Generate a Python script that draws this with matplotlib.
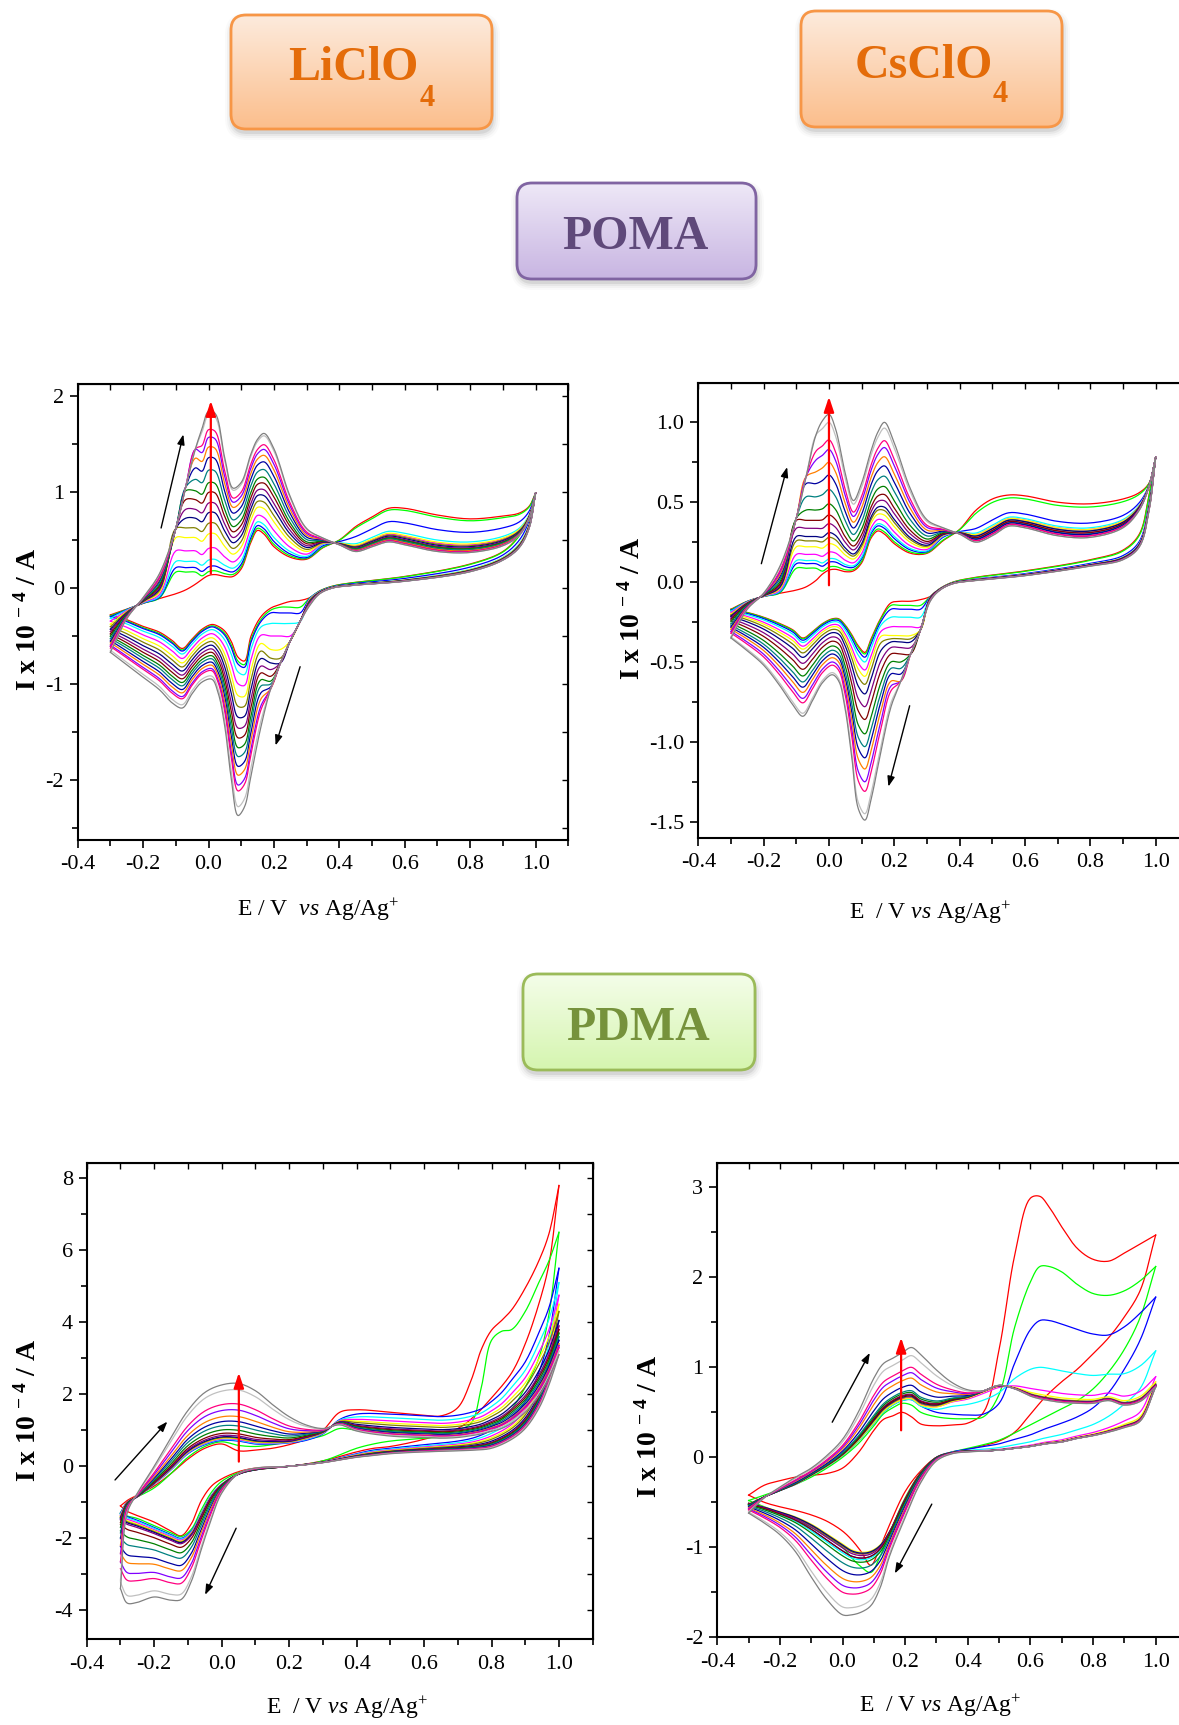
import numpy as np
import matplotlib
matplotlib.use("Agg")
import matplotlib.pyplot as plt
from matplotlib.patches import FancyBboxPatch
from matplotlib.ticker import MultipleLocator, FormatStrFormatter
from matplotlib.colors import to_rgb

plt.rcParams.update({
    "font.family": ["Liberation Serif", "DejaVu Serif"],
    "mathtext.fontset": "custom",
    "mathtext.rm": "Liberation Serif",
    "mathtext.it": "Liberation Serif:italic",
    "mathtext.bf": "Liberation Serif:bold",
    "axes.unicode_minus": False,
})

# Scan colours, first scan (red) to last scan (grey)
cycle_colors = ["#FF0000", "#00FF00", "#0000FF", "#00FFFF", "#FF00FF", "#FFFF00",
                "#808000", "#000080", "#800080", "#800000", "#008000", "#008080",
                "#0000A0", "#FF8000", "#8000FF", "#FF0080", "#C0C0C0", "#808080"]

# ---------------- POMA potential grids (V vs Ag/Ag+) ----------------
E_poma_fwd = [-0.30, -0.25, -0.20, -0.15, -0.10, -0.07, -0.04, -0.02, 0.00, 0.02, 0.05,
              0.075, 0.10, 0.13, 0.15, 0.17, 0.20, 0.25, 0.30, 0.35, 0.40, 0.45, 0.50,
              0.55, 0.60, 0.70, 0.80, 0.90, 0.95, 0.98, 1.00]
E_poma_rev = [1.00, 0.98, 0.95, 0.90, 0.80, 0.60, 0.45, 0.38, 0.34, 0.31, 0.28, 0.25,
              0.22, 0.19, 0.16, 0.13, 0.11, 0.09, 0.07, 0.05, 0.03, 0.01, -0.02, -0.05,
              -0.08, -0.11, -0.15, -0.20, -0.25, -0.30]

# POMA / LiClO4 : first and last scan (I x 1e-4 A)
poma_li_first_fwd = [-0.28, -0.22, -0.16, -0.11, -0.06, -0.02, 0.04, 0.09, 0.13, 0.14, 0.12,
                     0.12, 0.20, 0.48, 0.60, 0.56, 0.43, 0.32, 0.30, 0.42, 0.50, 0.64, 0.74,
                     0.83, 0.83, 0.76, 0.72, 0.75, 0.78, 0.85, 0.99]
poma_li_last_fwd = [-0.67, -0.32, -0.10, 0.15, 0.62, 1.05, 1.45, 1.66, 1.84, 1.82, 1.35,
                    1.04, 1.10, 1.40, 1.55, 1.61, 1.45, 0.95, 0.62, 0.52, 0.45, 0.38, 0.43,
                    0.48, 0.45, 0.38, 0.37, 0.44, 0.55, 0.72, 0.99]
poma_li_first_rev = [0.99, 0.75, 0.55, 0.38, 0.25, 0.12, 0.06, 0.02, -0.03, -0.10, -0.13,
                     -0.14, -0.17, -0.21, -0.30, -0.50, -0.76, -0.72, -0.56, -0.45, -0.40,
                     -0.38, -0.43, -0.53, -0.63, -0.55, -0.46, -0.40, -0.33, -0.28]
poma_li_last_rev = [0.99, 0.62, 0.42, 0.29, 0.17, 0.07, 0.03, 0.00, -0.06, -0.18, -0.35,
                    -0.55, -0.78, -1.05, -1.45, -1.95, -2.28, -2.37, -2.00, -1.45, -1.10,
                    -0.95, -0.98, -1.10, -1.25, -1.20, -1.06, -0.93, -0.80, -0.67]
# per-scan readings: anodic peak (~0.0 V), cathodic peak (~0.1 V),
# anodic plateau at 0.8 V, cathodic shelf at 0.2 V
poma_li_anodic = [0.14, 0.18, 0.23, 0.30, 0.42, 0.57, 0.68, 0.79, 0.89, 1.00, 1.10, 1.23,
                  1.36, 1.47, 1.57, 1.65, 1.80, 1.84]
poma_li_cathodic = [-0.76, -0.80, -0.83, -0.91, -1.03, -1.15, -1.26, -1.37, -1.48, -1.58,
                    -1.68, -1.77, -1.87, -1.96, -2.06, -2.12, -2.28, -2.37]
poma_li_high = [0.72, 0.70, 0.58, 0.48, 0.45, 0.46, 0.44, 0.43, 0.42, 0.41, 0.41, 0.40,
                0.39, 0.39, 0.38, 0.38, 0.37, 0.37]
poma_li_shelf = [-0.19, -0.20, -0.26, -0.37, -0.50, -0.64, -0.73, -0.78, -0.85, -0.92,
                 -0.97, -1.00, -1.03, -1.06, -1.08, -1.10, -1.10, -1.10]

# POMA / CsClO4
poma_cs_first_fwd = [-0.17, -0.12, -0.09, -0.07, -0.05, -0.03, 0.01, 0.05, 0.075, 0.08, 0.065,
                     0.07, 0.12, 0.28, 0.32, 0.30, 0.24, 0.18, 0.18, 0.26, 0.33, 0.45, 0.52,
                     0.545, 0.54, 0.50, 0.49, 0.52, 0.56, 0.62, 0.78]
poma_cs_last_fwd = [-0.35, -0.17, -0.07, 0.10, 0.40, 0.66, 0.92, 1.01, 1.05, 0.96, 0.68,
                    0.51, 0.62, 0.83, 0.94, 1.00, 0.87, 0.58, 0.39, 0.34, 0.30, 0.25, 0.29,
                    0.35, 0.34, 0.29, 0.28, 0.34, 0.45, 0.60, 0.78]
poma_cs_first_rev = [0.78, 0.55, 0.30, 0.20, 0.14, 0.07, 0.03, 0.00, -0.04, -0.09, -0.11,
                     -0.12, -0.12, -0.13, -0.22, -0.35, -0.44, -0.40, -0.33, -0.27, -0.23,
                     -0.23, -0.26, -0.31, -0.35, -0.30, -0.26, -0.22, -0.19, -0.17]
poma_cs_last_rev = [0.78, 0.45, 0.22, 0.14, 0.10, 0.04, 0.01, -0.01, -0.05, -0.12, -0.30,
                    -0.45, -0.62, -0.78, -1.05, -1.35, -1.49, -1.42, -1.10, -0.80, -0.62,
                    -0.58, -0.63, -0.74, -0.84, -0.77, -0.65, -0.52, -0.43, -0.35]
poma_cs_anodic = [0.075, 0.094, 0.125, 0.146, 0.188, 0.24, 0.28, 0.31, 0.366, 0.42, 0.49,
                  0.58, 0.67, 0.75, 0.83, 0.89, 1.00, 1.05]
poma_cs_cathodic = [-0.44, -0.45, -0.47, -0.50, -0.55, -0.59, -0.64, -0.70, -0.78, -0.86,
                    -0.95, -1.03, -1.10, -1.17, -1.25, -1.31, -1.45, -1.49]
poma_cs_high = [0.49, 0.47, 0.37, 0.34, 0.33, 0.33, 0.32, 0.32, 0.31, 0.31, 0.30, 0.30,
                0.30, 0.29, 0.29, 0.29, 0.28, 0.28]
poma_cs_shelf = [-0.115, -0.146, -0.17, -0.22, -0.28, -0.335, -0.355, -0.375, -0.41, -0.45,
                 -0.50, -0.54, -0.575, -0.62, -0.65, -0.68, -0.74, -0.78]

# ---------------- PDMA / LiClO4 ----------------
E_pdma_li_fwd = [-0.30, -0.28, -0.25, -0.20, -0.15, -0.10, -0.05, 0.00, 0.05, 0.10, 0.15,
                 0.20, 0.25, 0.30, 0.35, 0.40, 0.50, 0.60, 0.65, 0.70, 0.74, 0.77, 0.80,
                 0.83, 0.86, 0.90, 0.94, 0.97, 1.00]
E_pdma_li_rev = [1.00, 0.97, 0.94, 0.90, 0.86, 0.80, 0.75, 0.70, 0.60, 0.50, 0.45, 0.40,
                 0.30, 0.20, 0.10, 0.05, 0.00, -0.03, -0.06, -0.09, -0.12, -0.15, -0.20,
                 -0.25, -0.28, -0.30]
pdma_li_scan1_fwd = [-1.10, -0.95, -0.80, -0.55, -0.20, 0.20, 0.50, 0.62, 0.43, 0.45, 0.50,
                     0.60, 0.75, 1.00, 1.50, 1.57, 1.50, 1.42, 1.40, 1.63, 2.40, 3.25, 3.78,
                     4.05, 4.35, 4.95, 5.70, 6.45, 7.80]
pdma_li_scan2_fwd = [-1.30, -1.00, -0.85, -0.60, -0.20, 0.25, 0.55, 0.68, 0.58, 0.55, 0.60,
                     0.68, 0.75, 0.85, 1.05, 1.00, 0.95, 0.95, 0.97, 1.02, 1.20, 2.20, 3.50,
                     3.75, 3.80, 4.30, 5.10, 5.70, 6.50]
pdma_li_scan3_fwd = [-1.30, -1.00, -0.85, -0.50, -0.10, 0.35, 0.60, 0.72, 0.70, 0.62, 0.62,
                     0.65, 0.72, 0.90, 1.30, 1.45, 1.45, 1.40, 1.38, 1.42, 1.50, 1.60, 1.80,
                     2.05, 2.40, 2.90, 3.70, 4.40, 5.50]
pdma_li_last_fwd = [-3.40, -1.30, -0.75, 0.00, 0.80, 1.55, 2.05, 2.26, 2.30, 2.10, 1.72,
                    1.38, 1.15, 1.05, 1.15, 0.98, 0.84, 0.80, 0.78, 0.80, 0.85, 0.90, 0.97,
                    1.05, 1.20, 1.50, 1.95, 2.45, 3.10]
pdma_li_scan1_rev = [7.80, 5.60, 4.50, 3.40, 2.60, 1.90, 1.40, 1.05, 0.75, 0.55, 0.50, 0.40,
                     0.15, 0.00, -0.05, -0.15, -0.35, -0.55, -0.95, -1.60, -1.93, -1.80,
                     -1.55, -1.37, -1.25, -1.10]
pdma_li_scan2_rev = [6.50, 4.20, 3.00, 2.20, 1.60, 1.10, 0.95, 0.85, 0.78, 0.70, 0.62, 0.50,
                     0.15, 0.00, -0.08, -0.18, -0.42, -0.72, -1.20, -1.75, -1.95, -1.85,
                     -1.65, -1.45, -1.38, -1.30]
pdma_li_scan3_rev = [5.50, 3.60, 2.60, 1.80, 1.35, 1.00, 0.80, 0.70, 0.60, 0.50, 0.45, 0.35,
                     0.12, 0.00, -0.10, -0.22, -0.50, -0.80, -1.30, -1.80, -2.00, -1.90,
                     -1.70, -1.50, -1.40, -1.30]
pdma_li_last_rev = [3.10, 2.25, 1.60, 1.05, 0.75, 0.50, 0.45, 0.43, 0.40, 0.35, 0.30, 0.25,
                    0.10, 0.00, -0.05, -0.20, -0.75, -1.45, -2.30, -3.20, -3.70, -3.72,
                    -3.63, -3.78, -3.80, -3.40]
pdma_li_anodic = [0.43, 0.58, 0.70, 0.72, 0.74, 0.76, 0.78, 0.80, 0.84, 0.90, 1.00, 1.12,
                  1.24, 1.38, 1.56, 1.73, 2.12, 2.30]
pdma_li_cathodic = [-1.93, -1.95, -2.00, -2.02, -2.05, -2.08, -2.10, -2.12, -2.15, -2.25,
                    -2.40, -2.55, -2.75, -2.90, -3.10, -3.25, -3.55, -3.70]
pdma_li_high = [7.8, 6.5, 5.5, 5.1, 4.75, 4.5, 4.3, 4.05, 3.9, 3.8, 3.7, 3.6, 3.5, 3.4,
                3.35, 3.3, 3.2, 3.1]

# ---------------- PDMA / CsClO4 ----------------
E_pdma_cs_fwd = [-0.30, -0.25, -0.20, -0.15, -0.10, -0.05, 0.00, 0.05, 0.10, 0.13, 0.16,
                 0.19, 0.22, 0.25, 0.30, 0.35, 0.40, 0.45, 0.50, 0.55, 0.60, 0.63, 0.66,
                 0.70, 0.75, 0.80, 0.85, 0.90, 0.95, 1.00]
E_pdma_cs_rev = [1.00, 0.95, 0.90, 0.85, 0.80, 0.75, 0.70, 0.65, 0.60, 0.55, 0.50, 0.45,
                 0.40, 0.35, 0.30, 0.25, 0.20, 0.15, 0.12, 0.09, 0.06, 0.03, 0.00, -0.05,
                 -0.10, -0.15, -0.20, -0.25, -0.30]
pdma_cs_scan1_fwd = [-0.42, -0.31, -0.26, -0.22, -0.20, -0.18, -0.12, 0.05, 0.30, 0.42, 0.46,
                     0.50, 0.45, 0.37, 0.35, 0.36, 0.38, 0.50, 1.20, 2.25, 2.88, 2.90, 2.78,
                     2.56, 2.32, 2.20, 2.18, 2.27, 2.37, 2.47]
pdma_cs_scan2_fwd = [-0.48, -0.42, -0.36, -0.30, -0.22, -0.12, 0.00, 0.15, 0.35, 0.48, 0.55,
                     0.60, 0.58, 0.50, 0.45, 0.43, 0.43, 0.45, 0.70, 1.45, 1.95, 2.12, 2.12,
                     2.06, 1.92, 1.82, 1.80, 1.85, 1.96, 2.12]
pdma_cs_scan3_fwd = [-0.52, -0.44, -0.37, -0.30, -0.20, -0.10, 0.02, 0.18, 0.38, 0.50, 0.58,
                     0.63, 0.64, 0.57, 0.50, 0.48, 0.47, 0.48, 0.60, 1.05, 1.42, 1.52, 1.52,
                     1.48, 1.42, 1.37, 1.36, 1.45, 1.60, 1.78]
pdma_cs_last_fwd = [-0.62, -0.45, -0.33, -0.22, -0.12, 0.02, 0.20, 0.50, 0.88, 1.04, 1.10,
                    1.16, 1.22, 1.14, 0.97, 0.83, 0.75, 0.74, 0.80, 0.76, 0.68, 0.65, 0.63,
                    0.61, 0.60, 0.60, 0.63, 0.58, 0.62, 0.78]
pdma_cs_scan1_rev = [2.47, 1.85, 1.56, 1.33, 1.15, 0.98, 0.84, 0.68, 0.48, 0.28, 0.18, 0.13,
                     0.09, 0.05, 0.00, -0.15, -0.38, -0.75, -1.00, -1.20, -1.05, -0.92, -0.82,
                     -0.71, -0.64, -0.59, -0.55, -0.50, -0.42]
pdma_cs_scan2_rev = [2.12, 1.55, 1.20, 0.95, 0.76, 0.63, 0.54, 0.45, 0.36, 0.27, 0.19, 0.14,
                     0.10, 0.06, 0.00, -0.17, -0.45, -0.85, -1.10, -1.28, -1.22, -1.12, -1.00,
                     -0.88, -0.78, -0.70, -0.62, -0.55, -0.48]
pdma_cs_scan3_rev = [1.78, 1.30, 0.98, 0.72, 0.55, 0.45, 0.38, 0.32, 0.25, 0.20, 0.15, 0.12,
                     0.09, 0.06, 0.00, -0.18, -0.48, -0.85, -1.02, -1.10, -1.12, -1.10, -1.04,
                     -0.92, -0.80, -0.70, -0.63, -0.57, -0.52]
pdma_cs_last_rev = [0.78, 0.40, 0.33, 0.28, 0.24, 0.21, 0.17, 0.15, 0.12, 0.10, 0.08, 0.07,
                    0.06, 0.04, -0.04, -0.28, -0.67, -1.10, -1.45, -1.65, -1.72, -1.75, -1.75,
                    -1.58, -1.33, -1.05, -0.86, -0.73, -0.62]
pdma_cs_anodic = [0.50, 0.59, 0.64, 0.64, 0.66, 0.65, 0.67, 0.68, 0.70, 0.69, 0.72, 0.74,
                  0.80, 0.88, 0.94, 1.00, 1.13, 1.22]
pdma_cs_cathodic = [-0.92, -1.12, -1.10, -1.12, -1.05, -1.03, -1.05, -1.04, -1.07, -1.10,
                    -1.15, -1.22, -1.30, -1.38, -1.45, -1.52, -1.67, -1.75]
pdma_cs_high = [2.90, 2.12, 1.52, 1.00, 0.75, 0.70, 0.68, 0.67, 0.67, 0.66, 0.66, 0.66,
                0.66, 0.66, 0.66, 0.66, 0.65, 0.65]

# y tick values
poma_li_yticks = [-2, -1, 0, 1, 2]
poma_cs_yticks = [-1.5, -1.0, -0.5, 0.0, 0.5, 1.0]
pdma_li_yticks = [-4, -2, 0, 2, 4, 6, 8]
pdma_cs_yticks = [-2, -1, 0, 1, 2, 3]
x_ticks = [-0.4, -0.2, 0.0, 0.2, 0.4, 0.6, 0.8, 1.0]

W, H = 1179, 1725
N_SCANS = len(cycle_colors)


def smooth_path(x, y, sx, sy, n=10):
    """Centripetal Catmull-Rom through the given points (in pixel-like units)."""
    P = np.column_stack([np.asarray(x, float) * sx, np.asarray(y, float) * sy])
    P = np.vstack([2 * P[0] - P[1], P, 2 * P[-1] - P[-2]])
    segs = []
    for i in range(1, len(P) - 2):
        p0, p1, p2, p3 = P[i - 1], P[i], P[i + 1], P[i + 2]
        t0 = 0.0
        t1 = t0 + max(np.hypot(*(p1 - p0)), 1e-6) ** 0.5
        t2 = t1 + max(np.hypot(*(p2 - p1)), 1e-6) ** 0.5
        t3 = t2 + max(np.hypot(*(p3 - p2)), 1e-6) ** 0.5
        t = np.linspace(t1, t2, n, endpoint=False)[:, None]
        a1 = (t1 - t) / (t1 - t0) * p0 + (t - t0) / (t1 - t0) * p1
        a2 = (t2 - t) / (t2 - t1) * p1 + (t - t1) / (t2 - t1) * p2
        a3 = (t3 - t) / (t3 - t2) * p2 + (t - t2) / (t3 - t2) * p3
        b1 = (t2 - t) / (t2 - t0) * a1 + (t - t0) / (t2 - t0) * a2
        b2 = (t3 - t) / (t3 - t1) * a2 + (t - t1) / (t3 - t1) * a3
        segs.append((t2 - t) / (t2 - t1) * b1 + (t - t1) / (t2 - t1) * b2)
    segs.append(P[-2][None, :])
    out = np.vstack(segs)
    return out[:, 0] / sx, out[:, 1] / sy


def build_scans(E, keys, key_idx, lo_vals, hi_vals, ramp, edge=None):
    """Scan currents between recorded key scans, weighted by per-scan peak readings."""
    E = np.asarray(E, float)
    r = np.clip((E - ramp[0]) / (ramp[1] - ramp[0]), 0, 1)
    last = np.asarray(keys[-1], float)
    scans = []
    for c in range(N_SCANS):
        if c in key_idx:
            scans.append(np.asarray(keys[key_idx.index(c)], float))
            continue
        j = max(k for k in range(len(key_idx)) if key_idx[k] < c)
        a, b = key_idx[j], key_idx[j + 1]
        wl = (lo_vals[c] - lo_vals[a]) / (lo_vals[b] - lo_vals[a])
        wh = (hi_vals[c] - hi_vals[a]) / (hi_vals[b] - hi_vals[a])
        w = wl * (1 - r) + wh * r
        ka, kb = np.asarray(keys[j], float), np.asarray(keys[j + 1], float)
        cur = ka + w * (kb - ka)
        if edge is not None:
            kind, e0, e1, levels = edge
            m = (E >= e0) & (E <= e1)
            if kind == "up":
                lvl = 0.92 * levels[c]
                cur[m] = np.maximum(cur[m], np.minimum(last[m], lvl))
            else:
                cur[m] = np.minimum(cur[m], np.maximum(last[m], levels[c]))
        scans.append(cur)
    return scans


def px_axes(fig, left, top, width, height):
    return fig.add_axes([left / W, 1 - (top + height) / H, width / W, height / H])


def style_axes(ax, ylim, yticks, yminor, yfmt):
    ax.set_xlim(-0.4, 1.1)
    ax.set_ylim(*ylim)
    ax.set_xticks(x_ticks)
    ax.xaxis.set_minor_locator(MultipleLocator(0.1))
    ax.set_yticks(yticks)
    ax.yaxis.set_minor_locator(MultipleLocator(yminor))
    ax.xaxis.set_major_formatter(FormatStrFormatter("%.1f"))
    ax.yaxis.set_major_formatter(FormatStrFormatter(yfmt))
    for s in ax.spines.values():
        s.set_linewidth(1.5)
    ax.tick_params(which="both", direction="out", width=1.2, labelsize=16,
                   top=False, right=False)
    ax.tick_params(which="major", length=6)
    ax.tick_params(which="minor", length=4.5)
    ax.tick_params(axis="x", pad=5)
    ax.tick_params(axis="y", pad=4)
    top = ax.secondary_xaxis("top")
    top.set_xticks(x_ticks)
    top.xaxis.set_minor_locator(MultipleLocator(0.1))
    top.tick_params(which="both", direction="in", length=4, width=1.0,
                    labeltop=False, labelbottom=False)
    right = ax.secondary_yaxis("right")
    right.set_yticks(yticks)
    right.yaxis.set_minor_locator(MultipleLocator(yminor))
    right.tick_params(which="both", direction="in", length=4, width=1.0,
                      labelright=False, labelleft=False)


def draw_panel(ax, Ef, Er, fwd, rev, rect):
    sx = rect[0] / 1.5
    sy = rect[1] / (ax.get_ylim()[1] - ax.get_ylim()[0])
    for c in range(N_SCANS):
        for E, I in ((Ef, fwd[c]), (Er, rev[c])):
            xs, ys = smooth_path(E, I, sx, sy)
            ax.plot(xs, ys, color=cycle_colors[c], lw=0.9, solid_joinstyle="round",
                    zorder=2 + c * 0.01)


def arrows(ax, up, down, red):
    ap = dict(arrowstyle="-|>,head_length=0.6,head_width=0.22", color="black", lw=1.0,
              shrinkA=0, shrinkB=0, mutation_scale=10)
    ax.annotate("", xy=up[1], xytext=up[0], arrowprops=ap, zorder=5)
    ax.annotate("", xy=down[1], xytext=down[0], arrowprops=ap, zorder=5)
    rp = dict(arrowstyle="-|>,head_length=0.9,head_width=0.3", color="red", lw=1.6,
              shrinkA=0, shrinkB=0, mutation_scale=10)
    ax.annotate("", xy=(red[0], red[2]), xytext=(red[0], red[1]), arrowprops=rp, zorder=6)


fig = plt.figure(figsize=(W / 100, H / 100), dpi=100)
fig.patch.set_facecolor("white")

# ---------------- title boxes ----------------
ov = fig.add_axes([0, 0, 1, 1])
ov.set_xlim(0, W)
ov.set_ylim(H, 0)
ov.axis("off")


def label_box(x0, y0, x1, y1, c_top, c_bot, edge):
    rs = 15
    for grow, a in [(7, 0.02), (5, 0.03), (3, 0.045), (1, 0.07)]:
        ov.add_patch(FancyBboxPatch((x0 - grow + 1, y0 + 5 - grow), (x1 - x0) + 2 * grow,
                                    (y1 - y0) + 2 * grow - 1,
                                    boxstyle=f"round,pad=0,rounding_size={rs + grow}",
                                    fc="black", ec="none", alpha=a, zorder=1))
    t = np.linspace(0, 1, 200)[:, None, None]
    grad = (1 - t) * np.array(to_rgb(c_top))[None, None, :] + t * np.array(to_rgb(c_bot))[None, None, :]
    grad = np.repeat(grad, 2, axis=1)
    im = ov.imshow(grad, extent=(x0, x1, y1, y0), origin="upper", aspect="auto",
                   interpolation="bilinear", zorder=2)
    clip = FancyBboxPatch((x0, y0), x1 - x0, y1 - y0,
                          boxstyle=f"round,pad=0,rounding_size={rs}", fc="none", ec="none")
    ov.add_patch(clip)
    im.set_clip_path(clip)
    ov.add_patch(FancyBboxPatch((x0, y0), x1 - x0, y1 - y0,
                                boxstyle=f"round,pad=0,rounding_size={rs}",
                                fc="none", ec=edge, lw=2.0, zorder=3))


label_box(231, 15, 492, 129, "#FDEBDD", "#FBBE8C", "#F79646")
ov.text(353, 80, "LiClO", ha="center", va="baseline", fontsize=34.5, fontweight="bold",
        color="#E46C0A", zorder=4)
ov.text(427, 106, "4", ha="center", va="baseline", fontsize=22, fontweight="bold",
        color="#E46C0A", zorder=4)

label_box(801, 11, 1062, 127, "#FDEBDD", "#FBBE8C", "#F79646")
ov.text(924, 78, "CsClO", ha="center", va="baseline", fontsize=34.5, fontweight="bold",
        color="#E46C0A", zorder=4)
ov.text(1000, 102, "4", ha="center", va="baseline", fontsize=22, fontweight="bold",
        color="#E46C0A", zorder=4)

label_box(517, 183, 756, 279, "#EEE8F7", "#C8B5E2", "#8064A2")
ov.text(635, 249, "POMA", ha="center", va="baseline", fontsize=34.5, fontweight="bold",
        color="#5F497A", zorder=4)

label_box(523, 974, 755, 1070, "#F4FDE9", "#D5F5AF", "#9BBB59")
ov.text(638, 1040, "PDMA", ha="center", va="baseline", fontsize=34.5, fontweight="bold",
        color="#76923C", zorder=4)
ov.set_xlim(0, W)
ov.set_ylim(H, 0)

# ---------------- panels ----------------
panels = [
    dict(rect=(77.7, 384, 490.6, 456), ylim=(-2.625, 2.125), yticks=poma_li_yticks,
         yminor=0.5, yfmt="%d", Ef=E_poma_fwd, Er=E_poma_rev,
         kf=[poma_li_first_fwd, poma_li_last_fwd], kr=[poma_li_first_rev, poma_li_last_rev],
         kidx=[0, 17], an=poma_li_anodic, ca=poma_li_cathodic, hi=poma_li_high,
         ramp=(0.30, 0.42), edge_f=("up", -0.105, -0.035, poma_li_anodic),
         edge_r=("down", 0.175, 0.30, poma_li_shelf),
         up=((-0.145, 0.625), (-0.077, 1.60)), down=((0.28, -0.82), (0.205, -1.64)),
         red=(0.007, 0.15, 1.95)),
    dict(rect=(698.3, 382.7, 490.0, 455), ylim=(-1.6, 1.248), yticks=poma_cs_yticks,
         yminor=0.25, yfmt="%.1f", Ef=E_poma_fwd, Er=E_poma_rev,
         kf=[poma_cs_first_fwd, poma_cs_last_fwd], kr=[poma_cs_first_rev, poma_cs_last_rev],
         kidx=[0, 17], an=poma_cs_anodic, ca=poma_cs_cathodic, hi=poma_cs_high,
         ramp=(0.30, 0.42), edge_f=("up", -0.105, -0.035, poma_cs_anodic),
         edge_r=("down", 0.175, 0.30, poma_cs_shelf),
         up=((-0.207, 0.115), (-0.128, 0.72)), down=((0.247, -0.774), (0.182, -1.28)),
         red=(0.0, -0.02, 1.16)),
    dict(rect=(86.7, 1163.3, 506.0, 476), ylim=(-4.806, 8.417), yticks=pdma_li_yticks,
         yminor=1.0, yfmt="%d", Ef=E_pdma_li_fwd, Er=E_pdma_li_rev,
         kf=[pdma_li_scan1_fwd, pdma_li_scan2_fwd, pdma_li_scan3_fwd, pdma_li_last_fwd],
         kr=[pdma_li_scan1_rev, pdma_li_scan2_rev, pdma_li_scan3_rev, pdma_li_last_rev],
         kidx=[0, 1, 2, 17], an=pdma_li_anodic, ca=pdma_li_cathodic, hi=pdma_li_high,
         ramp=(0.20, 0.40), edge_f=None, edge_r=None,
         up=((-0.316, -0.38), (-0.161, 1.24)), down=((0.043, -1.72), (-0.049, -3.57)),
         red=(0.051, 0.13, 2.6)),
    dict(rect=(717.3, 1163.3, 469.7, 474), ylim=(-2.0, 3.267), yticks=pdma_cs_yticks,
         yminor=0.5, yfmt="%d", Ef=E_pdma_cs_fwd, Er=E_pdma_cs_rev,
         kf=[pdma_cs_scan1_fwd, pdma_cs_scan2_fwd, pdma_cs_scan3_fwd, pdma_cs_last_fwd],
         kr=[pdma_cs_scan1_rev, pdma_cs_scan2_rev, pdma_cs_scan3_rev, pdma_cs_last_rev],
         kidx=[0, 1, 2, 17], an=pdma_cs_anodic, ca=pdma_cs_cathodic, hi=pdma_cs_high,
         ramp=(0.28, 0.45), edge_f=None, edge_r=None,
         up=((-0.033, 0.39), (0.087, 1.16)), down=((0.285, -0.52), (0.167, -1.29)),
         red=(0.187, 0.30, 1.33)),
]

for p in panels:
    ax = px_axes(fig, *p["rect"])
    style_axes(ax, p["ylim"], p["yticks"], p["yminor"], p["yfmt"])
    fwd = build_scans(p["Ef"], p["kf"], p["kidx"], p["an"], p["hi"], p["ramp"], p["edge_f"])
    rev = build_scans(p["Er"], p["kr"], p["kidx"], p["ca"], p["hi"], p["ramp"], p["edge_r"])
    draw_panel(ax, p["Ef"], p["Er"], fwd, rev, (p["rect"][2], p["rect"][3]))
    arrows(ax, p["up"], p["down"], p["red"])

# axis titles
ylab = r"I x 10 $^{\mathregular{-\ 4}}$ / A"
for x, y in [(28, 619), (632, 608), (28, 1410), (649, 1426)]:
    fig.text(x / W, 1 - y / H, ylab, rotation=90, ha="center", va="center",
             fontsize=20, fontweight="bold")
fig.text(318 / W, 1 - 910 / H, r"E / V  $\mathit{vs}$ Ag/Ag$^{+}$", ha="center",
         va="center", fontsize=17)
for x, y in [(930, 913), (347, 1708), (940, 1706)]:
    fig.text(x / W, 1 - y / H, r"E  / V $\mathit{vs}$ Ag/Ag$^{+}$", ha="center",
             va="center", fontsize=17)

fig.savefig("out.png", dpi=100, facecolor="white")
